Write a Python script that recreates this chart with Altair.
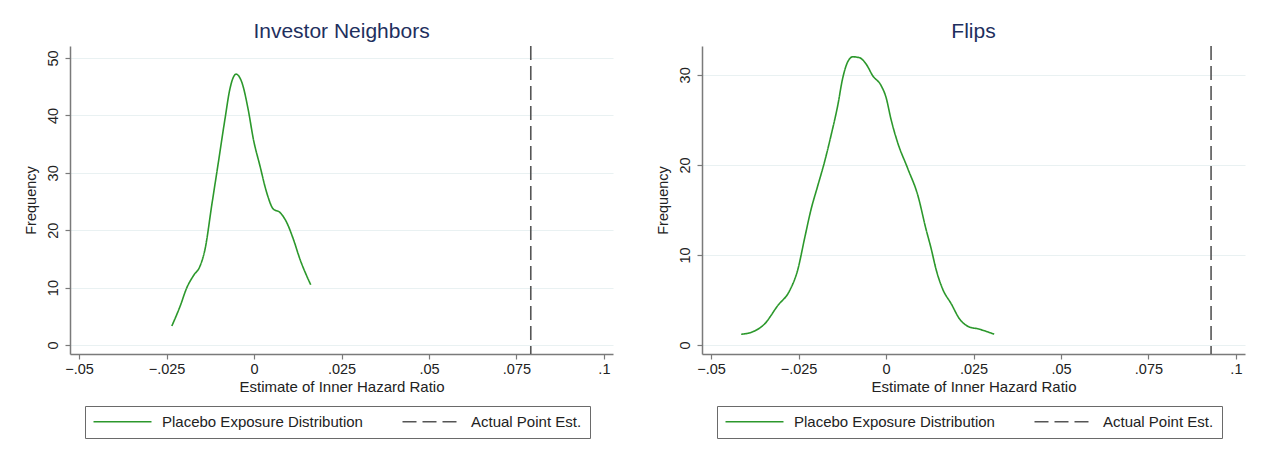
import altair as alt
import pandas as pd

# ---------------- data ----------------
series = ["Placebo Exposure Distribution", "Actual Point Est."]

inv_x = [-0.0235, -0.0211, -0.0192, -0.0173, -0.0154, -0.0140, -0.0121, -0.0102,
         -0.0083, -0.0069, -0.0058, -0.0051, -0.0044, -0.0035, -0.0016, -0.0002,
         0.0017, 0.0036, 0.0055, 0.0074, 0.0093, 0.0112, 0.0131, 0.0162]
inv_y = [3.3, 6.8, 10.0, 12.1, 13.8, 16.7, 24.3, 31.8,
         39.4, 44.6, 46.8, 47.2, 46.9, 45.8, 40.8, 35.9,
         31.2, 26.6, 23.7, 23.1, 21.4, 18.5, 15.0, 10.5]
inv_actual = 0.0791

flip_x = [-0.0414, -0.0386, -0.0348, -0.0309, -0.0276, -0.0252, -0.0233, -0.0214,
          -0.0195, -0.0176, -0.0157, -0.0138, -0.0124, -0.0110, -0.0095, -0.0076,
          -0.0057, -0.0038, -0.0014, 0.0000, 0.0014, 0.0033, 0.0062, 0.0091,
          0.0114, 0.0129, 0.0143, 0.0162, 0.0186, 0.0210, 0.0238, 0.0262, 0.0309]
flip_y = [1.2, 1.4, 2.3, 4.4, 6.0, 8.4, 11.8, 15.1,
          17.7, 20.3, 23.3, 26.6, 29.6, 31.4, 32.0, 31.9,
          31.2, 29.9, 28.8, 27.5, 25.1, 22.5, 19.6, 16.6,
          12.9, 10.7, 8.4, 6.2, 4.6, 2.9, 2.0, 1.8, 1.2]
flip_actual = 0.0929

x_ticks = [-0.05, -0.025, 0, 0.025, 0.05, 0.075, 0.1]
inv_y_ticks = [0, 10, 20, 30, 40, 50]
flip_y_ticks = [0, 10, 20, 30]

# ---------------- style ----------------
FONT = "Liberation Sans"
GREEN = "#2c982c"
DASHGRAY = "#555555"
NAVY = "#1e2f5e"
AXIS = "#7a7a7a"
GRID = "#e9f1f2"
TXT = "#222222"
W, H = 543, 308

x_label_expr = "datum.value == 0 ? '0' : replace(format(datum.value, '.3~f'), '0.', '.')"


def panel(title, xs, ys, actual, ydom, yticks):
    df_line = pd.DataFrame({"x": xs, "y": ys, "series": series[0]})
    df_rule = pd.DataFrame({"x": [actual], "series": [series[1]]})

    legend = alt.Legend(
        title=None, orient="none", legendX=15, legendY=360, direction="horizontal",
        symbolType="M-1.4,0H10.2", symbolSize=100, symbolStrokeWidth=1.6,
        labelOffset=54, columnPadding=36, padding=8, labelLimit=400,
        strokeColor="#6a6a6a", fillColor="white",
        labelFont=FONT, labelFontSize=15, labelColor=TXT,
    )
    color = alt.Color("series:N", sort=series,
                      scale=alt.Scale(domain=series, range=[GREEN, DASHGRAY]),
                      legend=legend)
    dash = alt.StrokeDash("series:N", sort=series,
                          scale=alt.Scale(domain=series, range=[[1, 0], [14, 6]]),
                          legend=legend)

    xenc = alt.X("x:Q",
                 scale=alt.Scale(domain=[-0.0526, 0.1026], nice=False, zero=False),
                 axis=alt.Axis(values=x_ticks, labelExpr=x_label_expr,
                               title="Estimate of Inner Hazard Ratio",
                               grid=False, domainColor=AXIS, tickColor=AXIS,
                               domainWidth=1.5, tickWidth=1.2, tickSize=5,
                               labelFont=FONT, labelFontSize=14.5, labelColor=TXT,
                               labelPadding=3, labelFlush=False,
                               titleFont=FONT, titleFontSize=15, titleFontWeight="normal",
                               titleColor=TXT, titlePadding=4))
    yenc = alt.Y("y:Q",
                 scale=alt.Scale(domain=ydom, nice=False, zero=False),
                 axis=alt.Axis(values=yticks, format="d", title="Frequency",
                               grid=True, gridColor=GRID, gridWidth=1.2,
                               domainColor=AXIS, tickColor=AXIS,
                               domainWidth=1.5, tickWidth=1.2, tickSize=5,
                               labelAngle=270, labelAlign="center", labelBaseline="bottom",
                               labelFont=FONT, labelFontSize=14.5, labelColor=TXT,
                               labelPadding=5,
                               titleFont=FONT, titleFontSize=14.5, titleFontWeight="normal",
                               titleColor=TXT, titlePadding=7))

    line = alt.Chart(df_line).mark_line(strokeWidth=1.6, interpolate="monotone").encode(
        x=xenc, y=yenc, color=color, strokeDash=dash, order=alt.Order("x:Q"))
    rule = alt.Chart(df_rule).mark_rule(strokeWidth=1.6).encode(
        x=alt.X("x:Q"), color=color, strokeDash=dash)

    return alt.layer(line, rule).properties(
        width=W, height=H,
        title=alt.TitleParams(title, font=FONT, fontSize=21, fontWeight="normal",
                              color=NAVY, anchor="middle", offset=3),
    )


left = panel("Investor Neighbors", inv_x, inv_y, inv_actual, [-1.57, 52.1], inv_y_ticks)
right = panel("Flips", flip_x, flip_y, flip_actual, [-1.0, 33.2], flip_y_ticks)

chart = alt.hconcat(left, right, spacing=42).resolve_scale(
    color="independent", strokeDash="independent", x="independent", y="independent"
).properties(
    padding={"left": 14, "top": 13, "right": 5, "bottom": 5},
    background="white",
).configure_view(stroke=None)

chart.save("out.html", embed_options={"renderer": "svg", "actions": False})
